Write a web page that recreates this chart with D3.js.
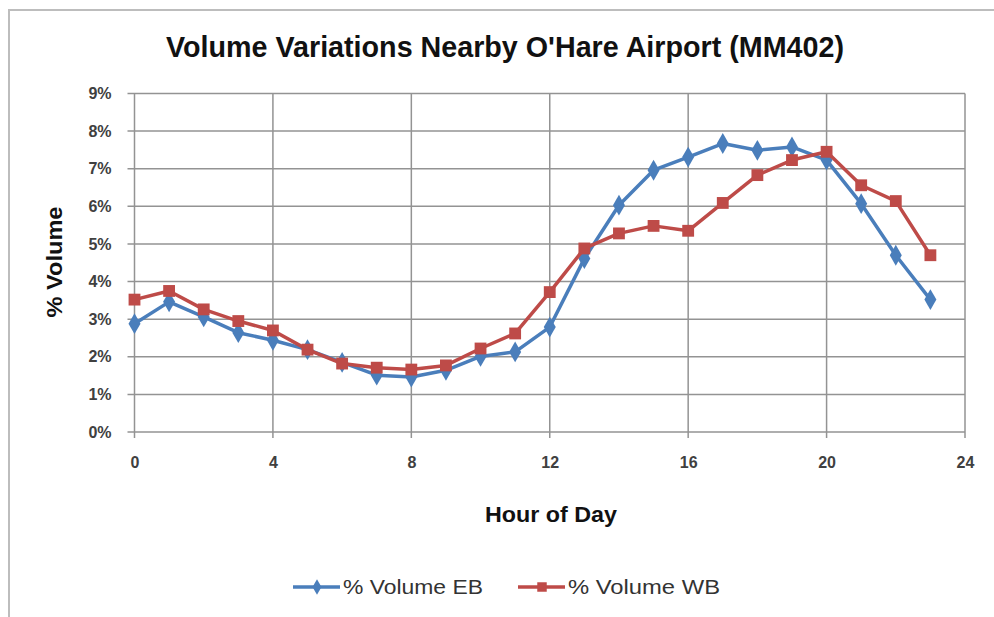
<!DOCTYPE html>
<html>
<head>
<meta charset="utf-8">
<script src="https://cdn.jsdelivr.net/npm/d3@7"></script>
<style>
  body { margin: 0; background: #fff; }
  text { font-family: "Liberation Sans Narrow", "Liberation Sans", Arial, sans-serif; }
</style>
</head>
<body>
<svg id="chart" width="994" height="617"></svg>
<script>
// hourly share of daily volume, in percent
const hours = d3.range(0, 24);
const volumeEB = [2.88, 3.46, 3.06, 2.64, 2.44, 2.19, 1.85, 1.51, 1.46, 1.64, 2.01, 2.13,
                  2.79, 4.61, 6.03, 6.96, 7.31, 7.67, 7.49, 7.58, 7.23, 6.07, 4.70, 3.52];
const volumeWB = [3.52, 3.75, 3.26, 2.95, 2.70, 2.19, 1.82, 1.71, 1.66, 1.77, 2.22, 2.62,
                  3.72, 4.88, 5.28, 5.48, 5.35, 6.09, 6.83, 7.23, 7.45, 6.56, 6.14, 4.70];
const xTicks = [0, 4, 8, 12, 16, 20, 24];
const yTicks = d3.range(0, 10);
const seriesNames = ["% Volume EB", "% Volume WB"];

const svg = d3.select("#chart");

// outer chart frame (runs off the right and bottom of the picture)
svg.append("path")
    .attr("d", "M9,640 L9,10 L1010,10")
    .attr("fill", "none")
    .attr("stroke", "#bdbdbd")
    .attr("stroke-width", 2);

const plot = { left: 134.5, right: 965, top: 93.5, bottom: 432 };
let x = d3.scaleLinear().domain([0, 24]).range([plot.left, plot.right]);
let y = d3.scaleLinear().domain([0, 9]).range([plot.bottom, plot.top]);

// grids
let grid = svg.append("g").attr("stroke", "#939393").attr("stroke-width", 1.5);
grid.selectAll("line.h").data(yTicks).enter().append("line")
    .attr("x1", plot.left - 7).attr("x2", plot.right)
    .attr("y1", d => y(d)).attr("y2", d => y(d));
grid.selectAll("line.v").data(xTicks).enter().append("line")
    .attr("x1", d => x(d)).attr("x2", d => x(d))
    .attr("y1", plot.top).attr("y2", plot.bottom + 6);

// axes labels through d3 axes, lines hidden
let yAxis = svg.append("g").attr("transform", `translate(${plot.left - 20},0)`)
    .call(d3.axisLeft(y).tickValues(yTicks).tickFormat(d => d + "%").tickSize(0));
let xAxis = svg.append("g").attr("transform", `translate(0,${plot.bottom + 22})`)
    .call(d3.axisBottom(x).tickValues(xTicks).tickSize(0));
for (let ax of [yAxis, xAxis])
{
  ax.select(".domain").remove();
  ax.selectAll("text").attr("font-size", 16).attr("font-weight", "bold")
      .attr("fill", "#404040")
      .style("font-family", "\"Liberation Sans Narrow\", \"Liberation Sans\", Arial, sans-serif");
}

// titles
svg.append("text").attr("x", 505).attr("y", 57).attr("text-anchor", "middle")
    .attr("font-size", 29).attr("font-weight", "bold").attr("fill", "#111")
    .attr("textLength", 678).attr("lengthAdjust", "spacingAndGlyphs")
    .text("Volume Variations Nearby O'Hare Airport (MM402)");
svg.append("text").attr("x", 551).attr("y", 522).attr("text-anchor", "middle")
    .attr("font-size", 22).attr("font-weight", "bold").attr("fill", "#111")
    .attr("textLength", 132).attr("lengthAdjust", "spacingAndGlyphs")
    .text("Hour of Day");
svg.append("text").attr("transform", "translate(62,262) rotate(-90)")
    .attr("text-anchor", "middle")
    .attr("font-size", 22).attr("font-weight", "bold").attr("fill", "#111")
    .attr("textLength", 111).attr("lengthAdjust", "spacingAndGlyphs")
    .text("% Volume");

// series
const colors = ["#4a7ebb", "#be4b48"];
const series = [volumeEB, volumeWB];
let line = d3.line().x((d, i) => x(hours[i])).y(d => y(d));
const diamond = d3.symbol().type(d3.symbolDiamond).size(125);
const square = d3.symbol().type(d3.symbolSquare).size(140);
const symbols = [diamond, square];

series.forEach((vals, s) =>
{
  svg.append("path").datum(vals)
      .attr("d", line)
      .attr("fill", "none")
      .attr("stroke", colors[s])
      .attr("stroke-width", 3.5)
      .attr("stroke-linejoin", "round");
  svg.selectAll(null).data(vals).enter().append("path")
      .attr("d", symbols[s])
      .attr("transform", (d, i) => `translate(${x(hours[i])},${y(d)})`)
      .attr("fill", colors[s]);
});

// legend
const legendX = [293, 518];
const legendTextLen = [140, 152];
seriesNames.forEach((name, s) =>
{
  let g = svg.append("g").attr("transform", `translate(${legendX[s]},587)`);
  g.append("line").attr("x1", 0).attr("x2", 47).attr("y1", 0).attr("y2", 0)
      .attr("stroke", colors[s]).attr("stroke-width", 3.5);
  g.append("path").attr("d", s === 0 ? d3.symbol().type(d3.symbolDiamond).size(70)
                                      : d3.symbol().type(d3.symbolSquare).size(90))
      .attr("transform", "translate(24,0)").attr("fill", colors[s]);
  g.append("text").attr("x", 50).attr("y", 7).attr("font-size", 20)
      .attr("fill", "#333")
      .attr("textLength", legendTextLen[s]).attr("lengthAdjust", "spacingAndGlyphs")
      .text(name);
});
</script>
</body>
</html>
